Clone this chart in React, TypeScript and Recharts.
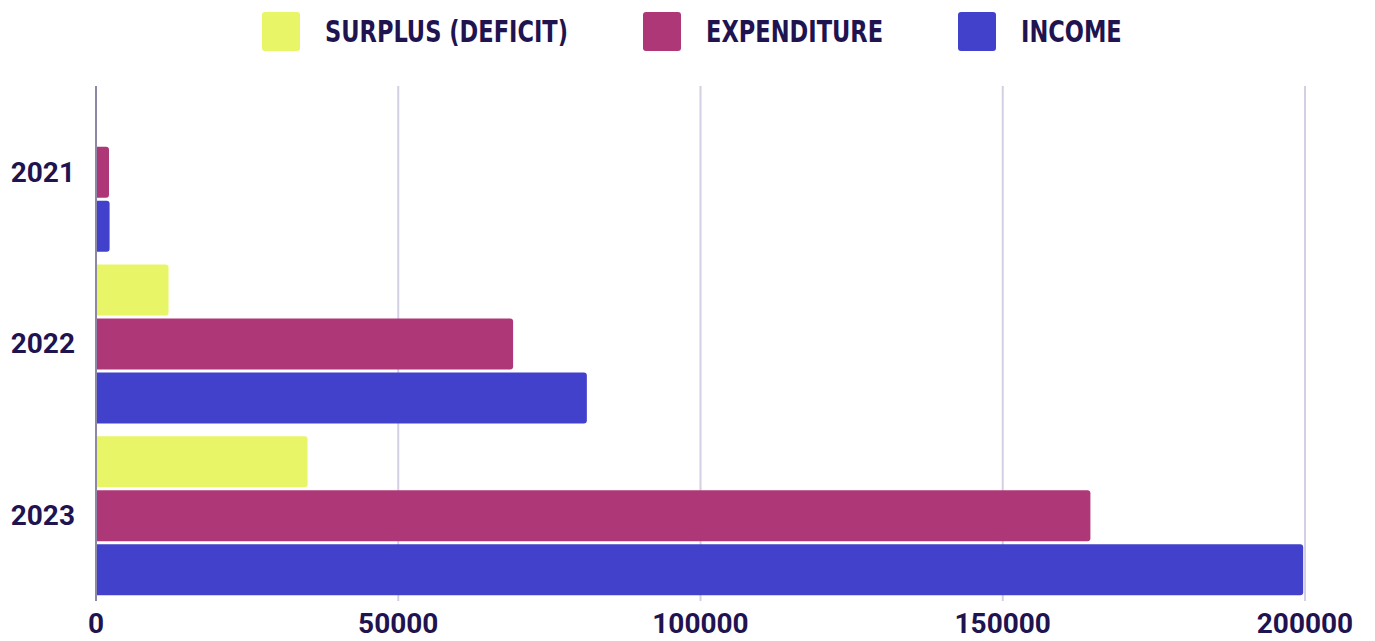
import React from "react";
import { BarChart, Bar, XAxis, YAxis, CartesianGrid, Legend } from "recharts";

const years = ["2021", "2022", "2023"];
const surplus = [0, 12000, 35000];
const expenditure = [2150, 69000, 164500];
const income = [2250, 81200, 199700];
const xTicks = [0, 50000, 100000, 150000, 200000];

const seriesNames = ["SURPLUS (DEFICIT)", "EXPENDITURE", "INCOME"];
const seriesColors = ["#e8f566", "#ae3778", "#4241cc"];

const data = years.map((y, i) => ({
  year: y,
  surplus: surplus[i],
  expenditure: expenditure[i],
  income: income[i],
}));

const TEXT = "#1f1450";
const tickFont = { fontFamily: "Roboto, 'DejaVu Sans'", fontWeight: 700, fontSize: 28, fill: TEXT };

const legendSwatchX = [262, 643, 958];
const legendTextScale = [0.835, 0.835, 0.835];

const LegendContent = () => (
  <div style={{ position: "relative", height: 65, width: 1375 }}>
    {seriesNames.map((n, i) => (
      <div key={n} style={{ position: "absolute", left: legendSwatchX[i], top: 12, display: "flex", alignItems: "center", height: 39 }}>
        <div style={{ width: 38, height: 39, background: seriesColors[i], borderRadius: 3, marginRight: 25 }} />
        <span
          style={{
            display: "inline-block",
            whiteSpace: "nowrap",
            fontFamily: "'DejaVu Sans Condensed', 'DejaVu Sans', sans-serif",
            fontWeight: 700,
            fontSize: 30,
            color: TEXT,
            lineHeight: "39px",
            transform: `scaleX(${legendTextScale[i]})`,
            transformOrigin: "left center",
          }}
        >
          {n}
        </span>
      </div>
    ))}
  </div>
);

export default function App() {
  return (
    <div style={{ position: "absolute", left: 0, top: 0, width: 1375, height: 641, background: "#fff" }}>
      <BarChart
        width={1375}
        height={641}
        data={data}
        layout="vertical"
        margin={{ top: 21, right: 70, bottom: 10, left: 0 }}
        barCategoryGap="4%"
        barGap={3}
      >
        <Legend
          verticalAlign="top"
          align="left"
          content={<LegendContent />}
          wrapperStyle={{ top: 0, left: 0, width: 1375, height: 65 }}
        />
        <CartesianGrid horizontal={false} vertical stroke="#d2d0e2" strokeWidth={2} />
        <XAxis
          type="number"
          domain={[0, 200000]}
          ticks={xTicks}
          axisLine={false}
          tickLine={false}
          tickMargin={6}
          height={30}
          tick={tickFont}
          interval={0}
        />
        <YAxis
          type="category"
          dataKey="year"
          width={96}
          axisLine={{ stroke: "#8c88a6", strokeWidth: 2 }}
          tickLine={false}
          tickMargin={15}
          tick={tickFont}
        />
        <Bar dataKey="surplus" name={seriesNames[0]} fill={seriesColors[0]} radius={[0, 3, 3, 0]} isAnimationActive={false} />
        <Bar dataKey="expenditure" name={seriesNames[1]} fill={seriesColors[1]} radius={[0, 3, 3, 0]} isAnimationActive={false} />
        <Bar dataKey="income" name={seriesNames[2]} fill={seriesColors[2]} radius={[0, 3, 3, 0]} isAnimationActive={false} />
      </BarChart>
    </div>
  );
}
